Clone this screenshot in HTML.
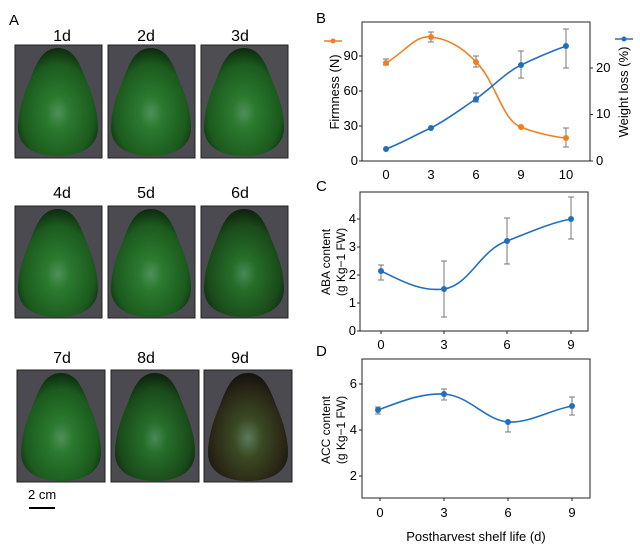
<!DOCTYPE html>
<html><head><style>
body{margin:0;background:#fff;}
svg{display:block;font-family:"Liberation Sans",Arial,sans-serif;}
</style></head><body>
<svg width="640" height="552" viewBox="0 0 640 552" xmlns="http://www.w3.org/2000/svg">
<defs>
<radialGradient id="g1" cx="0.5" cy="0.6" r="0.6">
<stop offset="0" stop-color="#4f8f5a"/><stop offset="0.25" stop-color="#2a7a2e"/><stop offset="0.75" stop-color="#1c5a1e"/><stop offset="1" stop-color="#0c2a0e"/></radialGradient>
<radialGradient id="g2" cx="0.5" cy="0.6" r="0.6">
<stop offset="0" stop-color="#4a8858"/><stop offset="0.25" stop-color="#266e2a"/><stop offset="0.75" stop-color="#1a4a1a"/><stop offset="1" stop-color="#0e200e"/></radialGradient>
<radialGradient id="g3" cx="0.5" cy="0.6" r="0.6">
<stop offset="0" stop-color="#5a7a5a"/><stop offset="0.3" stop-color="#3a4a22"/><stop offset="0.75" stop-color="#2a2616"/><stop offset="1" stop-color="#141210"/></radialGradient>
<path id="av" d="M0,-52 C16,-52 22,-36 28,-20 C36,-2 40,14 40,28 C40,46 24,56 0,56 C-24,56 -40,46 -40,28 C-40,14 -36,-2 -28,-20 C-22,-36 -16,-52 0,-52Z"/>
</defs>
<text x="9" y="25" font-size="15">A</text>
<g font-size="16" text-anchor="middle">
<text x="62" y="41">1d</text><text x="146" y="41">2d</text><text x="240" y="41">3d</text>
<text x="62" y="198">4d</text><text x="146" y="198">5d</text><text x="240" y="198">6d</text>
<text x="62" y="363">7d</text><text x="146" y="363">8d</text><text x="240" y="363">9d</text>
</g>
<g stroke="#222" stroke-width="1">
<rect x="15" y="45" width="87" height="113" fill="#4a4a50"/>
<rect x="108" y="45" width="87" height="113" fill="#4a4a50"/>
<rect x="201" y="45" width="87" height="113" fill="#4e4e52"/>
<rect x="15" y="206" width="87" height="112" fill="#4a4a50"/>
<rect x="108" y="206" width="87" height="112" fill="#4a4a50"/>
<rect x="201" y="206" width="87" height="112" fill="#4a4a50"/>
<rect x="17" y="370" width="88" height="112" fill="#4a4a50"/>
<rect x="111" y="370" width="88" height="112" fill="#4a4a50"/>
<rect x="204" y="370" width="88" height="112" fill="#4a4a50"/>
</g>
<use href="#av" transform="translate(58,100)" fill="url(#g1)"/>
<use href="#av" transform="translate(151,100)" fill="url(#g1)"/>
<use href="#av" transform="translate(244,100)" fill="url(#g1)"/>
<use href="#av" transform="translate(58,261)" fill="url(#g1)"/>
<use href="#av" transform="translate(151,261)" fill="url(#g1)"/>
<use href="#av" transform="translate(244,261)" fill="url(#g2)"/>
<use href="#av" transform="translate(61,425)" fill="url(#g1)"/>
<use href="#av" transform="translate(155,425)" fill="url(#g2)"/>
<use href="#av" transform="translate(248,425)" fill="url(#g3)"/>
<text x="28" y="499" font-size="13">2 cm</text>
<line x1="29" y1="508" x2="55" y2="508" stroke="#000" stroke-width="2"/>

<!-- Panel B -->
<text x="316" y="23" font-size="15">B</text>
<rect x="362" y="22" width="228" height="139" fill="none" stroke="#222"/>
<g font-size="13" text-anchor="end">
<text x="358" y="165">0</text><text x="358" y="130">30</text><text x="358" y="95">60</text><text x="358" y="60">90</text></g>
<g stroke="#222"><line x1="359" y1="161" x2="362" y2="161"/><line x1="359" y1="126" x2="362" y2="126"/><line x1="359" y1="91" x2="362" y2="91"/><line x1="359" y1="56" x2="362" y2="56"/>
<line x1="590" y1="161" x2="593" y2="161"/><line x1="590" y1="114.5" x2="593" y2="114.5"/><line x1="590" y1="68" x2="593" y2="68"/></g>
<g font-size="13"><text x="596" y="165">0</text><text x="596" y="118">10</text><text x="596" y="72">20</text></g>
<g font-size="13" text-anchor="middle"><text x="386" y="179">0</text><text x="431" y="179">3</text><text x="476" y="179">6</text><text x="521" y="179">9</text><text x="566" y="179">10</text></g>
<text transform="translate(339,92) rotate(-90)" font-size="13" text-anchor="middle">Firmness (N)</text>
<text transform="translate(628,92) rotate(-90)" font-size="13" text-anchor="middle">Weight loss (%)</text>
<line x1="324" y1="41" x2="342" y2="41" stroke="#ef7f22" stroke-width="1.5"/><circle cx="333" cy="41" r="2.5" fill="#ef7f22"/>
<line x1="615" y1="39" x2="633" y2="39" stroke="#1f6fc0" stroke-width="1.5"/><circle cx="624" cy="39" r="2.5" fill="#1f6fc0"/>
<g stroke="#777" stroke-width="1">
<path d="M386,59v6M383,59h6M383,65h6M431,32v10M428,32h6M428,42h6M476,56v11M473,56h6M473,67h6M566,128v19M563,128h6M563,147h6"/>
<path d="M476,93v9M473,93h6M473,102h6M521,51v27M518,51h6M518,78h6M566,29v39M563,29h6M563,68h6"/>
</g>
<path d="M386,63 C405,52 415,35 431,37 C450,39 465,50 476,62 C495,80 503,122 521,127 C535,133 555,137 566,138" fill="none" stroke="#ef7f22" stroke-width="1.6"/>
<g fill="#ef7f22"><circle cx="386" cy="63" r="3"/><circle cx="431" cy="37" r="3"/><circle cx="476" cy="62" r="3"/><circle cx="521" cy="127" r="3"/><circle cx="566" cy="138" r="3"/></g>
<path d="M386,149 C400,144 415,135 431,128 C450,118 462,108 476,99 C495,85 505,73 521,65 C540,56 555,50 566,46" fill="none" stroke="#1f6fc0" stroke-width="1.6"/>
<g fill="#1f6fc0"><circle cx="386" cy="149" r="3"/><circle cx="431" cy="128" r="3"/><circle cx="476" cy="99" r="3"/><circle cx="521" cy="65" r="3"/><circle cx="566" cy="46" r="3"/></g>

<!-- Panel C -->
<text x="316" y="191" font-size="15">C</text>
<rect x="360" y="192" width="228" height="139" fill="none" stroke="#222"/>
<g font-size="13" text-anchor="end"><text x="356" y="335">0</text><text x="356" y="307">1</text><text x="356" y="279">2</text><text x="356" y="251">3</text><text x="356" y="223">4</text></g>
<g stroke="#222"><path d="M357,331h3M357,303h3M357,275h3M357,247h3M357,219h3M381,331v3M444,331v3M507,331v3M571,331v3"/></g>
<g font-size="13" text-anchor="middle"><text x="381" y="349">0</text><text x="444" y="349">3</text><text x="507" y="349">6</text><text x="571" y="349">9</text></g>
<text transform="translate(330,262) rotate(-90)" font-size="12" text-anchor="middle">ABA content</text>
<text transform="translate(345,262) rotate(-90)" font-size="12" text-anchor="middle">(g Kg−1 FW)</text>
<g stroke="#777"><path d="M381,265v15M378,265h6M378,280h6M444,261v56M441,261h6M441,317h6M507,218v46M504,218h6M504,264h6M571,197v42M568,197h6M568,239h6"/></g>
<path d="M381,271 C400,280 420,292 444,289 C470,285 480,250 507,241 C530,232 550,223 571,219" fill="none" stroke="#1f6fc0" stroke-width="1.6"/>
<g fill="#1f6fc0"><circle cx="381" cy="271" r="3"/><circle cx="444" cy="289" r="3"/><circle cx="507" cy="241" r="3"/><circle cx="571" cy="219" r="3"/></g>

<!-- Panel D -->
<text x="316" y="356" font-size="15">D</text>
<rect x="362" y="359" width="228" height="139" fill="none" stroke="#222"/>
<g font-size="13" text-anchor="end"><text x="357" y="388">6</text><text x="357" y="434">4</text><text x="357" y="480">2</text></g>
<g stroke="#222"><path d="M359,384h3M359,430h3M359,476h3M380,498v3M444,498v3M508,498v3M572,498v3"/></g>
<g font-size="13" text-anchor="middle"><text x="380" y="517">0</text><text x="444" y="517">3</text><text x="508" y="517">6</text><text x="572" y="517">9</text></g>
<text transform="translate(330,430) rotate(-90)" font-size="12" text-anchor="middle">ACC content</text>
<text transform="translate(345,430) rotate(-90)" font-size="12" text-anchor="middle">(g Kg−1 FW)</text>
<text x="476" y="541" font-size="13" text-anchor="middle">Postharvest shelf life (d)</text>
<g stroke="#777"><path d="M378,407v7M375,407h6M375,414h6M444,389v11M441,389h6M441,400h6M508,422v10M505,422h6M505,432h6M572,397v18M569,397h6M569,415h6"/></g>
<path d="M378,410 C400,402 420,393 444,394 C470,396 485,420 508,422 C530,423 550,410 572,406" fill="none" stroke="#1f6fc0" stroke-width="1.6"/>
<g fill="#1f6fc0"><circle cx="378" cy="410" r="3"/><circle cx="444" cy="394" r="3"/><circle cx="508" cy="422" r="3"/><circle cx="572" cy="406" r="3"/></g>
</svg>
</body></html>
